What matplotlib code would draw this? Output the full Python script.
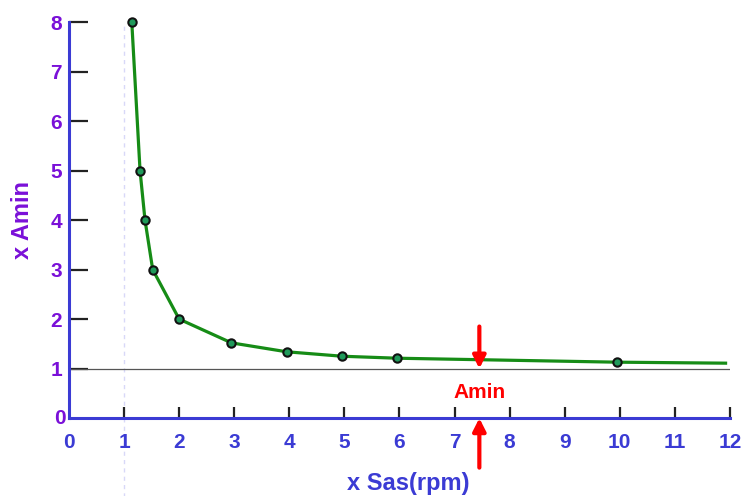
import matplotlib.pyplot as plt

# data
sas = [1.14, 1.29, 1.38, 1.52, 2.0, 2.95, 3.95, 4.96, 5.96, 9.95, 11.92]
amin = [8.0, 5.0, 4.0, 3.0, 2.0, 1.52, 1.34, 1.25, 1.21, 1.13, 1.11]
marked = 10          # last point has no marker
amin_x = 7.45
x_ticks = list(range(1, 13))
y_ticks = list(range(1, 9))

blue = '#3b3bd4'
purple = '#7a10d8'
green = '#168c16'

plt.rcParams['font.family'] = ['Liberation Sans', 'DejaVu Sans']
plt.rcParams['font.weight'] = 'bold'

fig = plt.figure(figsize=(7.49, 4.96), dpi=100)
ax = fig.add_axes([0.0921, 0.157, 0.8825, 0.7986])

ax.set_xlim(0, 12)
ax.set_ylim(0, 8)

# light dashed guide at x=1, running past the axes
ax.plot([1, 1], [-1.7, 8], ls=(0, (3, 3)), color='#d8d8f8', lw=1, clip_on=False, zorder=1)
# reference line at 1
ax.plot([0, 12], [1, 1], color='#555555', lw=0.9, zorder=2)

ax.plot(sas, amin, color=green, lw=2.3, zorder=3, clip_on=False)
ax.plot(sas[:marked], amin[:marked], ls='none', marker='o', ms=6,
        mfc='#1f9a5a', mec='#111111', mew=1.5, zorder=4, clip_on=False)

# Amin arrows
ax.annotate('', xy=(amin_x, 1.0), xytext=(amin_x, 1.85),
            arrowprops=dict(arrowstyle='-|>,head_width=0.38,head_length=0.75',
                            color='red', lw=3, shrinkA=0, shrinkB=0), annotation_clip=False)
ax.annotate('', xy=(amin_x, 0.0), xytext=(amin_x, -1.0),
            arrowprops=dict(arrowstyle='-|>,head_width=0.38,head_length=0.75',
                            color='red', lw=3, shrinkA=0, shrinkB=0), annotation_clip=False)
ax.text(amin_x, 0.52, 'Amin', color='red', fontsize=15, fontweight='bold',
        ha='center', va='center')

for s in ['top', 'right']:
    ax.spines[s].set_visible(False)
for s in ['left', 'bottom']:
    ax.spines[s].set_color(blue)
    ax.spines[s].set_linewidth(2.2)

ax.set_xticks(x_ticks)
ax.set_yticks(y_ticks)
ax.tick_params(axis='y', direction='in', length=14, width=1.6, color='#222222',
               labelcolor=purple, labelsize=15, pad=5)
ax.tick_params(axis='x', direction='in', length=8, width=1.6, color='#222222',
               labelcolor=blue, labelsize=15, pad=11)
# zero labels without ticks
ax.text(-0.06, 0, '0', color=purple, fontsize=15, fontweight='bold', ha='right', va='center')
ax.text(0, -0.31, '0', color=blue, fontsize=15, fontweight='bold', ha='center', va='top')

ax.set_xlabel('x Sas(rpm)', color=blue, fontsize=17, fontweight='bold')
ax.xaxis.set_label_coords(0.513, -0.135)
ax.set_ylabel('x Amin', color=purple, fontsize=17, fontweight='bold', labelpad=12)

fig.savefig('out.png', dpi=100)
